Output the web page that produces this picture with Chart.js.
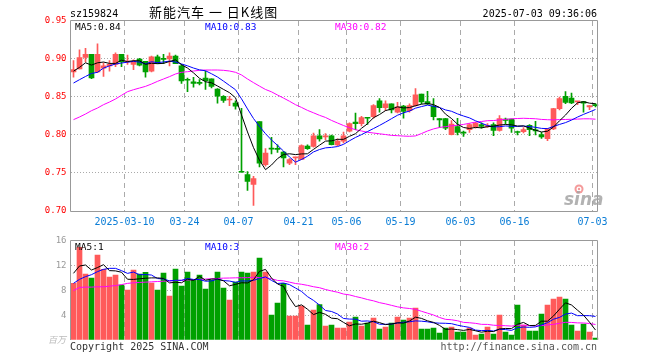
<!DOCTYPE html>
<html>
<head>
<meta charset="utf-8">
<script src="https://cdn.jsdelivr.net/npm/chart.js@4.4.1/dist/chart.umd.min.js"></script>
<style>
  html, body { margin: 0; padding: 0; background: #fff; }
  #wrap { position: relative; width: 660px; height: 360px; }
  #wrap canvas { position: absolute; left: 0; top: 0; }
</style>
</head>
<body>
<div id="wrap">
  <canvas id="kline" width="660" height="360"></canvas>
  <canvas id="vol" width="660" height="360"></canvas>
</div>
<script>
// ---- data ----
const dates = [
  "02-25","02-26","02-27","02-28",
  "03-03","03-04","03-05","03-06","03-07","03-10","03-11","03-12","03-13","03-14",
  "03-17","03-18","03-19","03-20","03-21","03-24","03-25","03-26","03-27","03-28","03-31",
  "04-01","04-02","04-03","04-07","04-08","04-09","04-10","04-11","04-14","04-15","04-16",
  "04-17","04-18","04-21","04-22","04-23","04-24","04-25","04-28","04-29","04-30",
  "05-06","05-07","05-08","05-09","05-12","05-13","05-14","05-15","05-16","05-19","05-20",
  "05-21","05-22","05-23","05-26","05-27","05-28","05-29","05-30",
  "06-03","06-04","06-05","06-06","06-09","06-10","06-11","06-12","06-13","06-16","06-17",
  "06-18","06-19","06-20","06-23","06-24","06-25","06-26","06-27","06-30",
  "07-01","07-02","07-03"
];
const tickDates = ["03-10","03-24","04-07","04-21","05-06","05-19","06-03","06-16","07-03"];
const tickTexts = ["2025-03-10","03-24","04-07","04-21","05-06","05-19","06-03","06-16","07-03"];

const opens = [0.883,0.887,0.902,0.906,0.883,0.888,0.891,0.893,0.906,0.896,
  0.893,0.900,0.897,0.884,0.903,0.900,0.900,0.904,0.891,0.873,
  0.870,0.869,0.875,0.874,0.8605,0.851,0.846,0.842,0.752,0.748,
  0.735,0.8175,0.761,0.782,0.782,0.7776,0.763,0.770,0.768,0.7855,
  0.785,0.799,0.7975,0.799,0.787,0.792,0.805,0.817,0.815,0.823,
  0.824,0.845,0.836,0.841,0.830,0.838,0.832,0.8386,0.854,0.844,
  0.838,0.8215,0.8215,0.8005,0.811,0.803,0.807,0.8105,0.8136,0.811,
  0.8136,0.806,0.821,0.821,0.8035,0.8044,0.8127,0.8057,0.8004,0.7952,
  0.808,0.8346,0.8509,0.8487,0.8435,0.8439,0.8368,0.840];
const highs = [0.898,0.912,0.914,0.906,0.920,0.895,0.898,0.908,0.906,0.905,
  0.899,0.901,0.897,0.904,0.905,0.906,0.908,0.905,0.893,0.875,
  0.876,0.873,0.884,0.874,0.861,0.852,0.851,0.845,0.835,0.752,
  0.7456,0.8175,0.782,0.797,0.787,0.7785,0.769,0.771,0.787,0.787,
  0.8026,0.807,0.802,0.800,0.795,0.804,0.816,0.829,0.8246,0.823,
  0.840,0.848,0.845,0.841,0.843,0.839,0.841,0.861,0.854,0.8575,
  0.848,0.8215,0.822,0.819,0.822,0.805,0.815,0.8167,0.816,0.815,
  0.816,0.8254,0.8224,0.821,0.805,0.8096,0.8136,0.818,0.8035,0.8088,
  0.835,0.850,0.857,0.8553,0.8439,0.844,0.8386,0.8412];
const lows = [0.876,0.887,0.896,0.874,0.882,0.877,0.884,0.890,0.890,0.893,
  0.886,0.891,0.876,0.883,0.894,0.894,0.891,0.894,0.868,0.857,
  0.863,0.866,0.860,0.862,0.842,0.843,0.8386,0.834,0.751,0.727,
  0.7075,0.758,0.759,0.775,0.777,0.758,0.761,0.761,0.7675,0.781,
  0.784,0.792,0.794,0.787,0.786,0.7895,0.804,0.807,0.812,0.814,
  0.822,0.830,0.832,0.829,0.829,0.822,0.830,0.838,0.841,0.840,
  0.820,0.810,0.807,0.800,0.800,0.798,0.8035,0.809,0.809,0.810,
  0.799,0.805,0.8145,0.8035,0.800,0.8026,0.799,0.800,0.7956,0.7925,
  0.807,0.833,0.8412,0.8412,0.840,0.830,0.8333,0.8368];
const closes = [0.886,0.902,0.906,0.875,0.906,0.891,0.893,0.906,0.896,0.897,
  0.897,0.892,0.883,0.903,0.894,0.8995,0.904,0.894,0.871,0.872,
  0.868,0.868,0.8715,0.864,0.851,0.8456,0.8465,0.838,0.751,0.739,
  0.7425,0.763,0.7763,0.7815,0.781,0.770,0.7675,0.771,0.786,0.782,
  0.799,0.795,0.798,0.7873,0.792,0.799,0.815,0.815,0.823,0.822,
  0.8386,0.836,0.841,0.833,0.837,0.831,0.8386,0.853,0.8434,0.841,
  0.824,0.820,0.809,0.8145,0.8035,0.8025,0.8136,0.8158,0.8114,0.8115,
  0.806,0.8215,0.8193,0.809,0.8033,0.807,0.807,0.8055,0.7974,0.808,
  0.8346,0.8478,0.843,0.8421,0.844,0.842,0.8386,0.8386];

const ma5 = [0.884,0.889,0.895,0.892,0.895,0.896,0.8942,0.8942,0.8984,0.8966,
  0.8978,0.8976,0.893,0.8944,0.8938,0.8943,0.8967,0.8989,0.8925,0.8881,
  0.8818,0.8746,0.8701,0.8687,0.8645,0.86,0.8557,0.849,0.8264,0.804,
  0.7834,0.7667,0.7544,0.7605,0.7689,0.7744,0.7753,0.7742,0.7751,0.7753,
  0.7811,0.7866,0.792,0.7923,0.7943,0.7943,0.7983,0.8017,0.8088,0.8148,
  0.8227,0.8269,0.8321,0.8341,0.8371,0.8356,0.8361,0.8385,0.8406,0.8414,
  0.84,0.8363,0.8275,0.8217,0.8142,0.8099,0.8086,0.81,0.8094,0.8109,
  0.8116,0.8131,0.8138,0.8134,0.8118,0.812,0.8091,0.8064,0.804,0.805,
  0.8105,0.8187,0.8262,0.8351,0.8423,0.8438,0.8419,0.8411];
const ma10 = [0.8684,0.8728,0.877,0.881,0.8825,0.888,0.891,0.8934,0.8947,0.8958,
  0.8969,0.8959,0.8936,0.8964,0.8952,0.8961,0.8972,0.896,0.8935,0.891,
  0.8881,0.8857,0.8845,0.8806,0.8763,0.8709,0.8652,0.8596,0.8476,0.8343,
  0.8217,0.8112,0.8017,0.7934,0.7864,0.7789,0.771,0.7643,0.7678,0.7721,
  0.7777,0.7809,0.7831,0.7837,0.7848,0.7877,0.7924,0.7968,0.8005,0.8045,
  0.8085,0.8126,0.8169,0.8215,0.826,0.8292,0.8315,0.8353,0.8374,0.8393,
  0.8378,0.8362,0.833,0.8312,0.8278,0.825,0.8225,0.8187,0.8155,0.8125,
  0.8107,0.8109,0.8119,0.8114,0.8113,0.8118,0.8111,0.8101,0.8087,0.8084,
  0.8113,0.8139,0.8163,0.8196,0.8236,0.8271,0.8303,0.8336];
const ma30 = [0.8202,0.8237,0.8276,0.832,0.8355,0.8399,0.8434,0.8474,0.8522,0.857,
  0.8596,0.8618,0.864,0.8671,0.8706,0.8737,0.8768,0.8803,0.8825,0.8833,
  0.8842,0.8851,0.8855,0.8855,0.8855,0.8851,0.8842,0.8825,0.879,0.8737,
  0.8689,0.8643,0.8599,0.8568,0.8526,0.8486,0.8444,0.8399,0.8363,0.8324,
  0.8292,0.8259,0.8231,0.8192,0.8158,0.8125,0.8095,0.8069,0.8053,0.8036,
  0.8026,0.8016,0.8006,0.7995,0.7991,0.7986,0.7983,0.7988,0.8019,0.8053,
  0.808,0.8099,0.811,0.8121,0.8128,0.8139,0.8155,0.817,0.8178,0.8188,
  0.819,0.8199,0.8206,0.8213,0.8217,0.822,0.8217,0.8214,0.8205,0.8201,
  0.8199,0.8203,0.8204,0.8207,0.8209,0.8213,0.8213,0.8208];

const vols = [9.16,14.98,10.67,10.02,13.74,11.42,10.18,10.51,8.89,8.08,
  11.31,10.67,10.94,9.21,8.08,10.83,7.11,11.48,8.73,10.99,
  9.81,10.51,8.24,9.7,10.99,8.41,6.47,9.38,10.99,10.83,
  10.99,13.25,10.99,4.04,5.98,9.16,3.88,3.88,5.5,2.42,
  4.85,5.71,2.26,2.42,1.94,1.94,2.91,3.72,2.26,2.75,
  3.56,1.78,2.1,2.75,3.72,3.23,3.56,5.17,1.78,1.78,
  1.94,1.13,1.94,2.1,1.29,1.29,1.94,0.81,0.97,2.1,
  0.97,4.04,1.29,0.81,5.66,2.42,1.45,1.45,4.2,5.66,
  6.63,6.95,6.63,2.42,1.45,2.59,1.29,0.32];
const volMa5 = [10.78,11.96,12.12,11.31,11.71,12.17,11.21,11.17,10.95,9.82,
  9.79,9.89,9.98,10.04,10.04,9.95,9.23,9.34,9.25,9.83,
  9.62,10.3,9.66,9.85,9.85,9.57,8.76,8.99,9.25,9.22,
  9.73,11.09,11.41,10.02,9.05,8.68,6.81,5.39,5.68,4.97,
  4.11,4.47,4.15,3.53,3.44,2.85,2.29,2.59,2.55,2.72,
  3.04,2.81,2.49,2.59,2.78,2.72,3.07,3.69,3.49,3.1,
  2.85,2.36,1.71,1.78,1.68,1.55,1.71,1.49,1.26,1.42,
  1.36,1.78,1.87,1.84,2.55,2.84,2.33,2.36,3.04,3.04,
  3.88,4.98,6.01,5.66,4.82,4.01,2.88,1.61];
const volMa10 = [9.16,9.8,10.24,10.56,11.05,11.42,11.58,11.58,11.21,10.77,
  10.98,10.55,10.58,10.5,9.93,9.87,9.56,9.66,9.64,9.94,
  9.79,9.77,9.5,9.55,9.84,9.6,9.53,9.32,9.55,9.53,
  9.65,9.93,10.2,9.63,9.13,9.21,8.95,8.4,7.85,7.01,
  6.4,5.64,4.77,4.61,4.2,3.48,3.38,3.37,3.04,3.08,
  2.95,2.55,2.54,2.57,2.75,2.88,2.94,3.09,3.04,2.94,
  2.78,2.72,2.7,2.64,2.39,2.2,2.04,1.6,1.52,1.55,
  1.45,1.75,1.68,1.55,1.99,2.1,2.05,2.12,2.44,2.8,
  3.36,3.65,4.19,4.35,3.93,3.94,3.93,3.81];
const volMa30 = [7.97,8.5,8.55,8.55,8.6,8.6,8.7,8.8,8.95,9.15,
  9.25,9.3,9.35,9.4,9.45,9.5,9.55,9.6,9.65,9.7,
  9.75,9.8,9.85,9.9,9.95,10.0,10.02,10.05,10.06,10.08,
  10.14,10.08,10.09,9.89,9.63,9.56,9.35,9.13,9.01,8.83,
  8.61,8.45,8.16,7.93,7.72,7.43,7.29,7.03,6.81,6.54,
  6.33,6.04,5.84,5.6,5.36,5.19,5.09,4.95,4.64,4.34,
  4.04,3.64,3.34,3.27,3.11,2.85,2.79,2.69,2.53,2.52,
  2.39,2.34,2.31,2.25,2.38,2.39,2.34,2.27,2.33,2.43,
  2.53,2.7,2.86,2.84,2.77,2.75,2.67,2.51];

const stockCode = "sz159824";
const chartTitle = "新能汽车 一 日K线图";
const stamp = "2025-07-03 09:36:06";
const priceLegend = ["MA5:0.84", "MA10:0.83", "MA30:0.82"];
const volLegend = ["MA5:1", "MA10:3", "MA30:2"];
const volUnit = "百万";

// ---- styles ----
const MONO = '"DejaVu Sans Mono", "Liberation Mono", monospace';
const RED = "#ff5a5a";
const GREEN = "#00a000";
const LINE_COLORS = ["#000000", "#0000ff", "#ff00ff"];
const FRAME = "#999999";
const GRID = "#aaaaaa";
const candleColors = closes.map((c, i) => (c >= opens[i] ? RED : GREEN));

function xTick(value) {
  const k = tickDates.indexOf(dates[value]);
  return k >= 0 ? tickTexts[k] : "";
}
function xGridColor(ctx) {
  return tickDates.includes(dates[ctx.index]) ? GRID : "rgba(0,0,0,0)";
}

function maLine(label, data, color) {
  return { type: "line", label, data, borderColor: color, borderWidth: 1,
    pointRadius: 0, tension: 0, order: 0 };
}

// frame around the plot area
function framePlugin(withBottom) {
  return {
    id: "frame",
    afterDatasetsDraw(chart) {
      const a = chart.chartArea;
      const c = chart.ctx;
      const l = Math.floor(a.left) + 0.5, r = Math.floor(a.right) - 0.5;
      const t = Math.floor(a.top) - 0.5, b = Math.floor(a.bottom) + 0.5;
      c.save();
      c.strokeStyle = FRAME;
      c.lineWidth = 1;
      c.beginPath();
      c.moveTo(l, withBottom ? b : a.bottom);
      c.lineTo(l, t);
      c.lineTo(r, t);
      c.lineTo(r, withBottom ? b : a.bottom);
      if (withBottom) c.lineTo(l, b);
      c.stroke();
      c.restore();
    }
  };
}

const priceText = {
  id: "priceText",
  afterDraw(chart) {
    const c = chart.ctx;
    c.save();
    c.textBaseline = "alphabetic";
    c.fillStyle = "#000";
    c.font = "10px " + MONO;
    c.textAlign = "left";
    c.fillText(stockCode, 70, 16.5);
    c.textAlign = "right";
    c.fillText(stamp, 597, 16.5);
    c.textAlign = "left";
    c.font = '13px "Noto Sans CJK SC"';
    c.letterSpacing = "1px";
    c.fillText(chartTitle, 149, 17);
    c.letterSpacing = "0px";
    c.font = "9.5px " + MONO;
    [75, 205, 335].forEach((x, i) => {
      c.fillStyle = LINE_COLORS[i];
      c.fillText(priceLegend[i], x, 29.5);
    });
    // watermark
    c.fillStyle = "rgba(240,120,120,0.75)";
    c.beginPath(); c.arc(579, 189, 4.5, 0, Math.PI * 2); c.fill();
    c.fillStyle = "#fff";
    c.beginPath(); c.arc(579, 189, 2.5, 0, Math.PI * 2); c.fill();
    c.fillStyle = "rgba(240,120,120,0.75)";
    c.beginPath(); c.arc(579, 189, 1.2, 0, Math.PI * 2); c.fill();
    c.font = 'italic bold 17px "DejaVu Sans"';
    c.fillStyle = "rgba(165,165,165,0.85)";
    c.fillText("sina", 564, 205);
    c.restore();
  }
};

const volText = {
  id: "volText",
  afterDraw(chart) {
    const c = chart.ctx;
    c.save();
    c.textBaseline = "alphabetic";
    c.textAlign = "left";
    c.font = "9.5px " + MONO;
    [75, 205, 335].forEach((x, i) => {
      c.fillStyle = LINE_COLORS[i];
      c.fillText(volLegend[i], x, 249.5);
    });
    c.font = "10px " + MONO;
    c.fillStyle = "#333";
    c.fillText("Copyright 2025 SINA.COM", 70, 349.5);
    c.textAlign = "right";
    c.fillStyle = "#555";
    c.fillText("http://finance.sina.com.cn", 597, 349.5);
    c.textAlign = "left";
    c.font = 'italic 9px "Noto Sans CJK SC"';
    c.fillStyle = "#bbb";
    c.fillText(volUnit, 48, 343);
    c.restore();
  }
};

// ---- price (candles) ----
new Chart(document.getElementById("kline"), {
  type: "bar",
  data: {
    labels: dates,
    datasets: [
      maLine("MA5", ma5, LINE_COLORS[0]),
      maLine("MA10", ma10, LINE_COLORS[1]),
      maLine("MA30", ma30, LINE_COLORS[2]),
      { label: "body", data: opens.map((o, i) => [o, closes[i]]),
        backgroundColor: candleColors, barThickness: 5, minBarLength: 1,
        grouped: false, order: 1 },
      { label: "wick", data: lows.map((l, i) => [l, highs[i]]),
        backgroundColor: candleColors, barThickness: 1,
        grouped: false, order: 2 }
    ]
  },
  options: {
    responsive: false,
    animation: false,
    events: [],
    layout: { padding: { top: 21, right: 61.5, bottom: 128, left: 0 } },
    plugins: { legend: { display: false }, tooltip: { enabled: false } },
    scales: {
      x: {
        offset: true,
        grid: { offset: true, color: xGridColor, drawTicks: false },
        border: { display: false, dash: [5, 4] },
        ticks: { autoSkip: false, maxRotation: 0, minRotation: 0, padding: 5,
          labelOffset: -3, color: "#0b7dd6", font: { family: MONO, size: 10 },
          callback: xTick },
        afterFit: (s) => { s.height = 21; }
      },
      y: {
        min: 0.70, max: 0.95,
        ticks: { stepSize: 0.05, padding: 4, color: "#ff0000",
          font: { family: MONO, size: 9 }, callback: (v) => v.toFixed(2) },
        grid: { drawTicks: false,
          color: (c) => (c.tick && c.tick.value > 0.701 && c.tick.value < 0.949 ? GRID : "rgba(0,0,0,0)") },
        border: { display: false, dash: [1, 2] },
        afterFit: (s) => { s.width = 70.5; }
      }
    }
  },
  plugins: [framePlugin(true), priceText]
});

// ---- volume ----
new Chart(document.getElementById("vol"), {
  type: "bar",
  data: {
    labels: dates,
    datasets: [
      maLine("MA5", volMa5, LINE_COLORS[0]),
      maLine("MA10", volMa10, LINE_COLORS[1]),
      maLine("MA30", volMa30, LINE_COLORS[2]),
      { label: "vol", data: vols, backgroundColor: candleColors,
        barThickness: 5, grouped: false, order: 1 }
    ]
  },
  options: {
    responsive: false,
    animation: false,
    events: [],
    layout: { padding: { top: 241, right: 61.5, bottom: 20, left: 0 } },
    plugins: { legend: { display: false }, tooltip: { enabled: false } },
    scales: {
      x: {
        offset: true,
        grid: { offset: true, color: xGridColor, drawTicks: false },
        border: { display: false, dash: [5, 4] },
        ticks: { display: false, autoSkip: false },
        afterFit: (s) => { s.height = 0; }
      },
      y: {
        min: 0, max: 16,
        ticks: { stepSize: 4, padding: 4, color: "#999",
          font: { family: MONO, size: 9 }, callback: (v) => (v === 0 ? "" : v) },
        grid: { drawTicks: false,
          color: (c) => (c.tick && c.tick.value > 0 && c.tick.value < 16 ? GRID : "rgba(0,0,0,0)") },
        border: { display: false, dash: [1, 2] },
        afterFit: (s) => { s.width = 70.5; }
      }
    }
  },
  plugins: [framePlugin(false), volText]
});
</script>
</body>
</html>
